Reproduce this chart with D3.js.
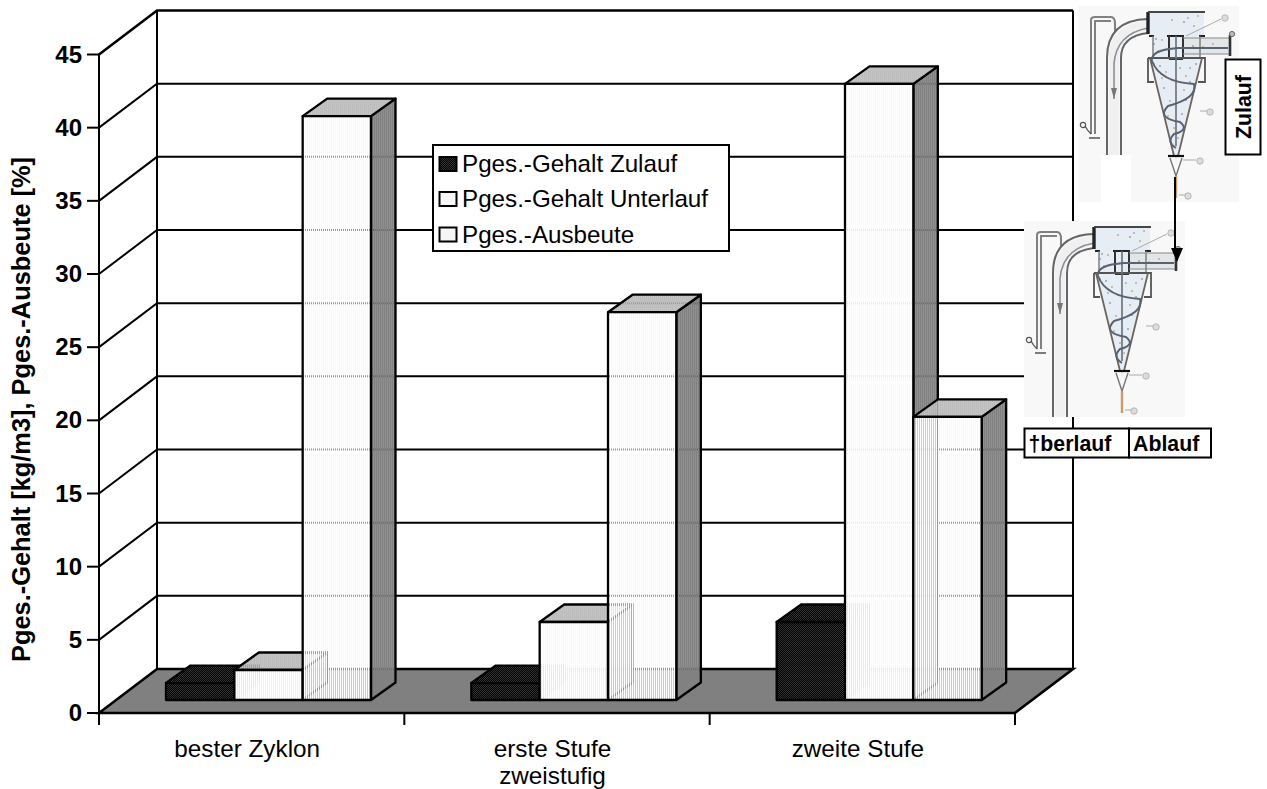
<!DOCTYPE html>
<html><head><meta charset="utf-8">
<script src="https://cdn.jsdelivr.net/npm/d3@7"></script>
<style>html,body{margin:0;padding:0;background:#fff;overflow:hidden}svg{display:block}text{font-family:"Liberation Sans",Arial,sans-serif;fill:#000}</style>
</head><body><div id="c"></div>
<script>
const categories = ["bester Zyklon", "erste Stufe", "zweite Stufe"];
const categoryLines = [["bester Zyklon"], ["erste Stufe", "zweistufig"], ["zweite Stufe"]];
const seriesNames = ["Pges.-Gehalt Zulauf", "Pges.-Gehalt Unterlauf", "Pges.-Ausbeute"];
const zulauf = [1.16, 1.16, 5.33];
const unterlauf = [2.05, 5.33, 42.1];
const ausbeute = [39.9, 26.5, 19.35];
const seriesValues = [zulauf, unterlauf, ausbeute];
const yTicks = [0, 5, 10, 15, 20, 25, 30, 35, 40, 45];
const yTitle = "Pges.-Gehalt [kg/m3], Pges.-Ausbeute [%]";

const W = 1267, H = 789;
const svg = d3.select("#c").append("svg").attr("width", W).attr("height", H).attr("viewBox", [0, 0, W, H]);
const defs = svg.append("defs");

function stripes(id, solid, thin) {
  const p = defs.append("pattern").attr("id", id).attr("width", 2).attr("height", 2).attr("patternUnits", "userSpaceOnUse");
  p.append("rect").attr("width", 1).attr("height", 2).attr("fill", solid);
  p.append("rect").attr("x", 1).attr("width", 1).attr("height", 2).attr("fill", thin);
}
stripes("pFront2", "#fff", "rgba(250,250,250,.93)");
stripes("pFront3", "#fff", "rgba(245,245,245,.62)");
stripes("pTop", "#bdbdbd", "rgba(185,185,185,.85)");
stripes("pSide", "#828282", "rgba(128,128,128,.88)");
const chk = defs.append("pattern").attr("id", "pDark").attr("width", 2).attr("height", 2).attr("patternUnits", "userSpaceOnUse");
chk.append("rect").attr("width", 2).attr("height", 2).attr("fill", "#000");
chk.append("rect").attr("width", 1).attr("height", 1).attr("fill", "#333");
chk.append("rect").attr("x", 1).attr("y", 1).attr("width", 1).attr("height", 1).attr("fill", "#333");
defs.append("filter").attr("id", "soft").append("feGaussianBlur").attr("stdDeviation", 0.5);

// scales
const DX = 58, DY = 44;            // depth of the floor
const BDX = 24.5, BDY = 17.5;      // depth of a bar
const BASE_LIFT = 13;              // bar base above the front edge of the floor
const y = d3.scaleLinear().domain([0, 45]).range([713, 54.5]);
const x0 = d3.scaleBand().domain(categories).range([99, 1015]);
const x1 = d3.scaleBand().domain(seriesNames).range([67, 272]);

// walls
const g = svg.append("g").attr("fill", "none").attr("stroke", "#000");
g.selectAll("path.side").data(yTicks.slice(1)).join("path").attr("class", "side")
  .attr("stroke-width", d => d === 45 ? 2.6 : 2)
  .attr("d", d => `M99,${y(d)}L${99 + DX},${y(d) - DY}H${1015 + DX}`);
g.append("path").attr("stroke-width", 2).attr("d", `M${99 + DX},${y(45) - DY}V${y(0) - DY}`);
g.append("path").attr("stroke-width", 2).attr("d", `M${1015 + DX},${y(45) - DY}V${y(0) - DY}`);
g.append("path").attr("fill", "#808080").attr("stroke-width", 2.6).attr("stroke-linejoin", "miter")
  .attr("d", `M99,${y(0)}L${99 + DX},${y(0) - DY}H${1015 + DX}L1015,${y(0)}Z`);
g.append("path").attr("stroke-width", 2).attr("d", `M99,${y(45)}V${y(0)}`);

// ticks
const yAxis = svg.append("g");
yAxis.selectAll("line").data(yTicks).join("line").attr("x1", 87).attr("x2", 99)
  .attr("y1", d => y(d)).attr("y2", d => y(d)).attr("stroke", "#000").attr("stroke-width", 2);
yAxis.selectAll("text").data(yTicks).join("text").attr("x", 82).attr("y", d => y(d) + 8)
  .attr("text-anchor", "end").attr("font-size", 24).attr("font-weight", "bold").text(d => d);
const xTickPos = categories.map(c => x0(c)).concat(1015);
svg.append("g").selectAll("line").data(xTickPos).join("line").attr("x1", d => d).attr("x2", d => d)
  .attr("y1", y(0)).attr("y2", y(0) + 12).attr("stroke", "#000").attr("stroke-width", 2);

svg.append("text").attr("transform", "translate(29.5,409.5) rotate(-90)").attr("text-anchor", "middle")
  .attr("font-size", 25.4).attr("font-weight", "bold").text(yTitle);

const catG = svg.append("g").selectAll("text").data(categories).join("text")
  .attr("text-anchor", "middle").attr("font-size", 24.3);
catG.each(function (c, i) {
  const cx = x0(c) + x0.bandwidth() / 2 - 4.5;
  d3.select(this).selectAll("tspan").data(categoryLines[i]).join("tspan")
    .attr("x", cx).attr("y", (d, j) => 757 + j * 27).text(d => d);
});

// bars
const flat = [];
categories.forEach((c, i) => seriesNames.forEach((s, j) => flat.push({ c, s, j, v: seriesValues[j][i] })));
const fronts = ["url(#pDark)", "url(#pFront2)", "url(#pFront3)"];
const bars = svg.append("g").selectAll("g").data(flat).join("g")
  .attr("stroke", "#000").attr("stroke-width", 2.3).attr("stroke-linejoin", "round");
bars.each(function (d) {
  const b = d3.select(this);
  const l = x0(d.c) + x1(d.s), r = l + x1.bandwidth();
  const bot = y(0) - BASE_LIFT, top = y(d.v) - BASE_LIFT;
  b.append("path").attr("fill", d.j === 0 ? "url(#pDark)" : "url(#pSide)")
    .attr("d", `M${r},${bot}L${r + BDX},${bot - BDY}V${top - BDY}L${r},${top}Z`);
  b.append("path").attr("fill", d.j === 0 ? "url(#pDark)" : "url(#pTop)")
    .attr("d", `M${l},${top}L${l + BDX},${top - BDY}H${r + BDX}L${r},${top}Z`);
  b.append("path").attr("fill", fronts[d.j]).attr("d", `M${l},${top}H${r}V${bot}H${l}Z`);
});

// cyclone picture, local size 161 x 196
const dots = [[76,38],[80,45],[84,34],[78,33],[110,12],[116,20],[106,16],[120,10],[94,14],[82,60],[88,66],[112,62],[118,58],[108,70],[76,58],[86,82],[92,95],[106,84],[112,76],[84,72],[90,110],[104,108],[96,122],[100,132],[108,94],[94,74],[102,62],[115,40],[125,41],[135,38],[143,42]];
function cyclone(px, py) {
  const c = svg.append("g").attr("transform", `translate(${px},${py})`);
  c.append("rect").attr("width", 161).attr("height", 196).attr("fill", "#f8f8f8");
  const s = c.append("g").attr("filter", "url(#soft)").attr("fill", "none");
  s.append("path").attr("fill", "#e6edf5").attr("d", "M71,6H126V30H122V52H124L98,157L72,52H75V30H71Z");
  s.append("path").attr("fill", "#e2e6e8").attr("d", "M105,32H152V48H105Z");
  s.selectAll("circle.d").data(dots).join("circle").attr("class", "d").attr("cx", d => d[0]).attr("cy", d => d[1]).attr("r", 1)
    .attr("fill", (d, i) => i % 3 ? "#c2ac86" : "#9aa0a8");
  s.append("path").attr("stroke", "#808080").attr("stroke-width", 2).attr("d", "M13,128V14Q13,11 17,11H33Q37,11 37,18V26M17,128V15H33");
  s.append("path").attr("stroke", "#f0f0f0").attr("stroke-width", 10).attr("d", "M36,196V52Q36,22 70,20");
  s.append("path").attr("stroke", "#666").attr("stroke-width", 2).attr("d", "M29,196V52Q29,14 70,13M43,196V52Q43,30 70,27");
  s.append("path").attr("stroke", "#8a8f98").attr("stroke-width", 1.6).attr("d", "M36,58Q38,28 70,22M36,58V93");
  s.append("path").attr("fill", "#777").attr("d", "M33,82H39L36,93Z");
  s.append("path").attr("stroke", "#555").attr("stroke-width", 1.3).attr("d", "M13,128Q9,124 7,120M11,132H22");
  s.append("circle").attr("cx", 5).attr("cy", 119).attr("r", 2.6).attr("stroke", "#555").attr("stroke-width", 1.2);
  s.append("path").attr("stroke", "#222").attr("stroke-width", 3.4).attr("d", "M70,6V28");
  s.append("path").attr("stroke", "#444").attr("stroke-width", 2).attr("d", "M70,6H127");
  s.append("path").attr("stroke", "#222").attr("stroke-width", 2.2).attr("d", "M71,30H76M89,30H106M121,30H127");
  s.append("path").attr("stroke", "#777").attr("stroke-width", 1.4).attr("d", "M75,30V52M122,30V52");
  s.append("path").attr("stroke", "#333").attr("stroke-width", 2).attr("d", "M91,30V53M105,30V53M91,53H105");
  s.append("path").attr("stroke", "#555").attr("stroke-width", 1.8).attr("d", "M70,52H127V76H120M76,76H70V52");
  s.append("path").attr("stroke", "#6d655c").attr("stroke-width", 1.8).attr("d", "M72,52L96,150M124,52L100,150");
  s.append("path").attr("stroke", "#666e78").attr("stroke-width", 1.6).attr("d", "M98,30V140");
  s.append("path").attr("stroke", "#596270").attr("stroke-width", 2).attr("d", "M150,42H100Q72,44 74,55Q82,76 116,78Q120,92 90,100Q78,112 102,116Q112,124 96,128Q88,136 98,142");
  s.append("path").attr("stroke", "#888").attr("stroke-width", 1.2).attr("d", "M105,32H152M105,48H152");
  s.append("path").attr("stroke", "#333").attr("stroke-width", 2.6).attr("d", "M152,29V50");
  s.append("circle").attr("cx", 154).attr("cy", 28).attr("r", 2.6).attr("stroke", "#666").attr("fill", "#bbb");
  s.append("path").attr("stroke", "#111").attr("stroke-width", 2.2).attr("d", "M90,150H106");
  s.append("path").attr("stroke", "#777").attr("stroke-width", 1.4).attr("d", "M92,152L98,170L104,152");
  s.append("path").attr("stroke", "#c89a6e").attr("stroke-width", 2.4).attr("d", "M98,170V192");
  s.append("path").attr("stroke", "#aaa").attr("stroke-width", 1).attr("d", "M108,30L143,13M122,105H129M105,154H118M101,189H107");
  const labels = [[147, 12], [132, 106], [122, 155], [110, 190]];
  s.selectAll("circle.l").data(labels).join("circle").attr("class", "l").attr("cx", d => d[0]).attr("cy", d => d[1]).attr("r", 3.2)
    .attr("fill", "#ddd").attr("stroke", "#aaa").attr("stroke-width", .8);
}
cyclone(1078, 6);
svg.append("rect").attr("x", 1101).attr("y", 155).attr("width", 30).attr("height", 47).attr("fill", "#fff");
cyclone(1024, 221);

// arrow between the two pictures
svg.append("path").attr("stroke", "#000").attr("stroke-width", 2).attr("d", "M1175,177V250");
svg.append("path").attr("fill", "#000").attr("d", "M1171,248H1183L1177,262Z");

function labelBox(x, yy, w, h, txt, rot) {
  const b = svg.append("g");
  b.append("rect").attr("x", x).attr("y", yy).attr("width", w).attr("height", h).attr("fill", "#fff").attr("stroke", "#000").attr("stroke-width", 2);
  const t = b.append("text").attr("font-size", 21.3).attr("font-weight", "bold").text(txt);
  if (rot) t.attr("text-anchor", "middle").attr("transform", `translate(${x + w / 2 + 7.5},${yy + h / 2}) rotate(-90)`);
  else t.attr("x", x + 4).attr("y", yy + h / 2 + 7.5);
}
labelBox(1225.5, 59.5, 35, 95, "Zulauf", true);
labelBox(1024.5, 428.5, 104.5, 29, "†berlauf", false);
labelBox(1129, 428.5, 82, 29, "Ablauf", false);

// legend
const leg = svg.append("g");
leg.append("rect").attr("x", 433).attr("y", 145).attr("width", 296).attr("height", 106).attr("fill", "#fff").attr("stroke", "#000").attr("stroke-width", 2);
const legY = [164, 199, 234.5];
const items = leg.selectAll("g").data(seriesNames).join("g").attr("transform", (d, i) => `translate(0,${legY[i]})`);
items.append("rect").attr("x", 439.5).attr("y", -7).attr("width", 17).attr("height", 14).attr("stroke", "#000").attr("stroke-width", 2)
  .attr("fill", (d, i) => i === 0 ? "url(#pDark)" : "#f6f6f6");
items.append("text").attr("x", 462).attr("y", 8).attr("font-size", 24.2).text(d => d);
</script></body></html>
